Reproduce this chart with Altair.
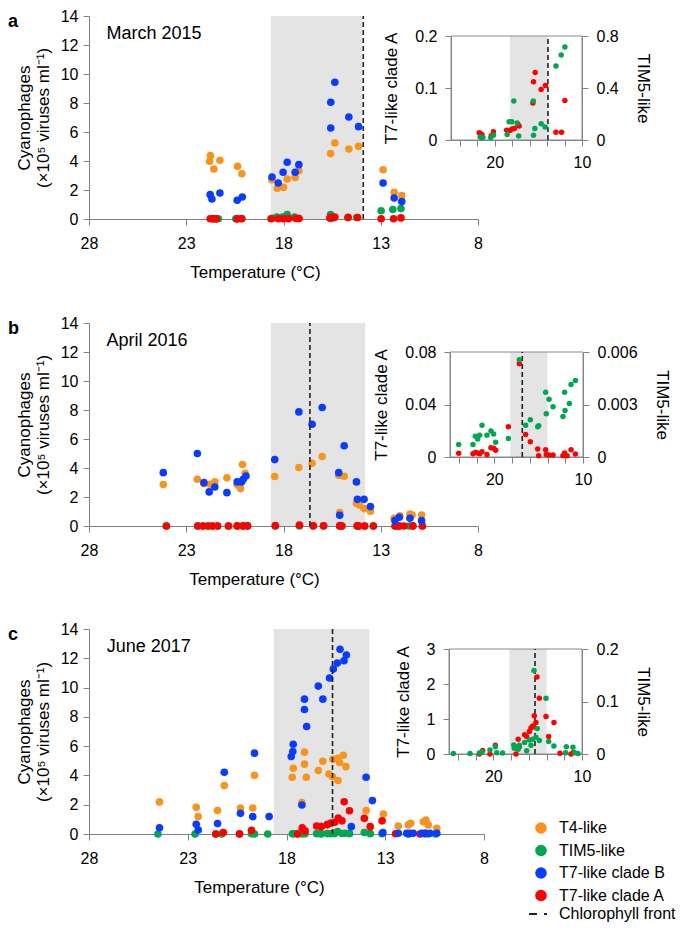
import altair as alt
import pandas as pd

FONT = "Liberation Sans"

SERIES = ["T4-like", "TIM5-like", "T7-like clade B", "T7-like clade A"]
SERIES_COLORS = ["#F7941D", "#00A651", "#0A3CFF", "#FF0000"]
FRONT_LABEL = ["Chlorophyll front"]

X_TICKS = [28, 23, 18, 13, 8]
Y_TICKS = [0, 2, 4, 6, 8, 10, 12, 14]
INSET_X_TICKS = [24, 22, 20, 18, 16, 14, 12, 10]

# ---------------- Panel a : March 2015 ----------------
a_t4_temp = [21.76, 21.8, 21.58, 21.27, 20.36, 20.14, 18.6, 18.32, 18.0, 17.81, 17.4, 17.21,
             15.58, 15.36, 14.64, 14.14, 12.88, 12.31, 11.92]
a_t4_val = [4.37, 3.98, 3.45, 4.05, 3.63, 3.12, 2.71, 2.12, 2.18, 2.76, 2.87, 3.33,
            4.51, 5.24, 4.83, 5.01, 3.40, 1.84, 1.61]
a_t7b_temp = [21.77, 21.68, 21.27, 20.38, 20.12, 18.59, 18.27, 18.02, 17.81, 17.4, 17.21,
              15.57, 15.36, 15.57, 14.64, 14.14, 12.88, 12.31, 11.92]
a_t7b_val = [1.68, 1.38, 1.79, 1.29, 1.52, 2.9, 2.48, 3.22, 3.91, 3.22, 3.75,
             8.05, 9.43, 6.28, 7.03, 6.37, 2.48, 1.45, 1.2]
a_tim5_temp = [21.66, 21.5, 21.35, 20.45, 20.15, 18.57, 18.34, 18.04, 17.81, 17.43, 17.25,
               15.58, 15.55, 15.4, 14.68, 14.23, 12.98, 12.38, 11.96]
a_tim5_val = [0.023, 0.018, 0.02, 0.018, 0.036, 0.043, 0.14, 0.14, 0.30, 0.13, 0.031,
              0.30, 0.036, 0.089, 0.125, 0.10, 0.57, 0.654, 0.716]
a_t7a_temp = [21.77, 21.6, 21.45, 20.38, 20.15, 18.64, 18.26, 18.0, 17.74, 17.36, 17.2,
              15.62, 15.55, 15.36, 14.68, 14.19, 12.98, 12.34, 11.96]
a_t7a_val = [0.014, 0.012, 0.010, 0.008, 0.016, 0.019, 0.0185, 0.021, 0.022, 0.031, 0.027,
             0.071, 0.112, 0.130, 0.097, 0.105, 0.015, 0.015, 0.076]
a_zone_main = [18.65, 13.97]
a_front_main = 13.9
a_zone_inset = [18.26, 13.92]
a_front_inset = 13.9
a_left_ticks = [0, 0.1, 0.2]
a_right_ticks = [0, 0.4, 0.8]

# ---------------- Panel b : April 2016 ----------------
b_t4_temp = [24.18, 22.43, 22.09, 21.78, 21.53, 20.91, 20.38, 20.21, 20.11, 19.97, 18.45,
             17.21, 16.53, 16.01, 15.16, 14.88, 15.11, 14.25, 14.1, 13.86, 13.53,
             12.31, 12.02, 11.5, 11.39, 10.9]
b_t4_val = [2.86, 3.22, 2.92, 2.88, 3.04, 3.32, 2.86, 2.58, 4.24, 3.64, 3.41,
            4.03, 4.33, 4.79, 3.5, 3.43, 0.92, 1.57, 1.45, 1.2, 1.01,
            0.53, 0.71, 0.83, 0.76, 0.76]
b_t7b_temp = [24.18, 22.43, 22.09, 21.82, 21.53, 20.91, 20.38, 20.16, 20.07, 19.93, 18.45,
              17.21, 16.53, 16.01, 15.16, 14.88, 15.11, 14.25, 14.2, 13.86, 13.53,
              12.27, 12.05, 11.5, 10.9]
b_t7b_val = [3.68, 5.0, 2.99, 2.35, 2.69, 2.3, 3.04, 3.04, 3.22, 3.45, 4.58,
             7.87, 7.02, 8.17, 3.68, 5.53, 0.74, 3.04, 1.84, 1.84, 1.34,
             0.37, 0.6, 0.53, 0.37]
b_tim5_temp = [24.02, 22.41, 22.14, 21.88, 21.65, 21.39, 20.83, 20.38, 20.08, 19.85, 18.42,
               17.18, 16.47, 15.94, 15.11, 15.0, 14.21, 14.14, 13.83, 13.38, 12.26,
               12.07, 12.03, 11.54, 11.35, 10.86]
b_tim5_val = [0.00072, 0.00072, 0.00118, 0.00103, 0.00125, 0.00182, 0.00125, 0.00148, 0.00131,
              0.00084, 0.00106, 0.00556, 0.00182, 0.00213, 0.00173, 0.00178, 0.0037, 0.00247,
              0.0033, 0.00287, 0.00232, 0.0037, 0.00266, 0.00306, 0.00414, 0.00437]
b_t7a_temp = [24.02, 22.41, 22.14, 21.88, 21.65, 21.39, 20.83, 20.38, 20.08, 19.85, 18.42,
              17.18, 16.47, 15.94, 15.11, 15.0, 14.21, 14.14, 13.83, 13.38, 12.26,
              12.07, 11.8, 11.35, 10.86]
b_t7a_val = [0.0028, 0.0025, 0.0035, 0.003, 0.0025, 0.004, 0.002, 0.0071, 0.0066, 0.0051, 0.023,
             0.0711, 0.0172, 0.0116, 0.0061, 0.001, 0.0056, 0.002, 0.0015, 0.0015, 0.001,
             0.003, 0.001, 0.0056, 0.0023]
b_zone_main = [18.65, 13.8]
b_front_main = 16.64
b_zone_inset = [18.2, 14.0]
b_front_inset = 16.85
b_left_ticks = [0, 0.04, 0.08]
b_right_ticks = [0, 0.003, 0.006]

# ---------------- Panel c : June 2017 ----------------
c_t4_temp = [24.43, 22.57, 22.47, 21.49, 21.15, 20.33, 19.71, 19.62, 17.71, 17.66, 17.09,
             17.09, 17.0, 17.22, 16.39, 16.16, 15.85, 15.65, 15.68, 15.39, 15.39, 15.31,
             15.12, 14.99, 13.97, 13.09, 12.34, 11.83, 11.71, 11.07, 10.94, 10.82, 10.39]
c_t4_val = [2.19, 1.82, 1.19, 1.6, 3.31, 1.78, 1.78, 4.01, 3.88, 4.49, 5.59,
            4.77, 3.88, 2.14, 4.33, 4.97, 4.1, 5.1, 3.92, 3.65, 5.17, 4.88,
            5.38, 4.6, 1.6, 1.37, 0.55, 0.62, 0.73, 0.84, 0.96, 0.62, 0.39]
c_t7b_temp = [24.43, 22.57, 22.47, 21.49, 21.15, 20.33, 19.71, 19.62, 18.88, 17.76, 17.68,
              17.66, 17.09, 17.09, 16.98, 17.22, 16.39, 16.16, 15.82, 15.63, 15.43, 15.29,
              15.09, 14.97, 14.72, 13.97, 13.65, 13.12, 12.34, 11.91, 11.74, 11.58, 11.15,
              10.95, 10.73, 10.39]
c_t7b_val = [0.43, 0.66, 0.27, 0.71, 4.22, 1.41, 1.19, 5.52, 1.19, 5.29, 5.63,
             6.13, 9.21, 8.5, 7.34, 1.98, 10.1, 9.21, 10.65, 11.26, 11.67, 12.61,
             11.83, 12.22, 0.5, 3.88, 2.28, 0.09, 0.05, 0.05, 0.05, 0.05, 0.05,
             0.05, 0.05, 0.05]
c_tim5_temp = [24.51, 22.63, 21.58, 21.28, 20.38, 19.77, 19.62, 18.95, 17.7, 17.63, 17.44,
               17.2, 17.06, 16.47, 16.24, 15.94, 15.75, 15.56, 15.41, 15.19, 15.04, 14.81,
               14.06, 13.76, 13.17, 11.77, 11.85, 11.02, 10.83, 10.45]
c_tim5_val = [0.001, 0.001, 0.002, 0.0045, 0.0076, 0.014, 0.0025, 0.002, 0.017, 0.011, 0.014,
              0.009, 0.0166, 0.0217, 0.0064, 0.0268, 0.0166, 0.028, 0.159, 0.0318, 0.0484, 0.0255,
              0.106, 0.0236, 0.0153, 0.014, 0.0025, 0.0127, 0.0025, 0.001]
c_t7a_temp = [21.58, 21.2, 20.38, 19.77, 17.44, 17.2, 17.06, 16.47, 16.24, 15.94, 15.75,
              15.56, 15.38, 15.19, 15.08, 14.81, 14.06, 13.76, 13.16, 12.48, 11.24, 10.98]
c_t7a_val = [0.0, 0.1, 0.0, 0.25, 0.0, 0.42, 0.21, 0.55, 0.5, 0.64, 0.74,
             0.8, 1.09, 0.9, 2.2, 1.59, 1.07, 0.5, 0.9, 0.02, 0.0, 0.04]
c_zone_main = [18.65, 13.8]
c_front_main = 15.67
c_zone_inset = [18.2, 14.0]
c_front_inset = 15.3
c_left_ticks = [0, 1, 2, 3]
c_right_ticks = [0, 0.1, 0.2]


def series_df(parts):
    frames = []
    for k, (name, temps, vals) in enumerate(parts):
        frames.append(pd.DataFrame({"temp": temps, "val": vals, "series": name, "ord": k}))
    return pd.concat(frames, ignore_index=True)


# legend positions are relative to the top-left corner of panel a's plot area
color_enc = alt.Color(
    "series:N",
    scale=alt.Scale(domain=SERIES, range=SERIES_COLORS),
    legend=alt.Legend(title=None, orient="none", legendX=444, legendY=804,
                      symbolType="circle", symbolSize=135, symbolOpacity=1,
                      labelFont=FONT, labelFontSize=16, labelColor="#000",
                      rowPadding=6.5, labelOffset=10, padding=0),
)
stroke_enc = alt.Stroke(
    "lab:N",
    scale=alt.Scale(domain=FRONT_LABEL, range=["#222222"]),
    legend=alt.Legend(title=None, orient="none", legendX=439, legendY=887,
                      symbolType="M-1,0H-0.2M0.5,0H0.8", symbolSize=400,
                      symbolStrokeWidth=2, labelFont=FONT, labelFontSize=16,
                      labelColor="#000", labelOffset=9, padding=0),
)


def make_row(letter, label, t4, t7b, tim5, t7a, zone_main, front_main, zone_inset,
             front_inset, lticks, rticks, W, H, xr, yr, title_x):
    lmax = lticks[-1]
    rmax = rticks[-1]
    main_xscale = alt.Scale(domain=[8, 28], reverse=True, nice=False, zero=False)
    main_xaxis = alt.Axis(values=X_TICKS, title="Temperature (°C)", titleX=title_x,
                          titlePadding=13, labelPadding=10, format="~g")
    main_yscale = alt.Scale(domain=[0, 14], nice=False, zero=True)
    main_yaxis = alt.Axis(values=Y_TICKS, title=["Cyanophages", "(×10⁵ viruses ml⁻¹)"],
                          titlePadding=8, labelPadding=5, format="~g")

    def mx(f):
        return alt.X(f, scale=main_xscale, axis=main_xaxis)

    def my(f):
        return alt.Y(f, scale=main_yscale, axis=main_yaxis)

    pts = series_df([("T4-like",) + t4, ("TIM5-like",) + tim5,
                     ("T7-like clade A",) + t7a, ("T7-like clade B",) + t7b])
    zone_df = pd.DataFrame({"t1": [zone_main[0]], "t2": [zone_main[1]], "y1": [0], "y2": [14]})
    front_df = pd.DataFrame({"t": [front_main], "y1": [0], "y2": [14], "lab": FRONT_LABEL})
    label_df = pd.DataFrame({"t": [27.1], "y": [12.75], "text": [label]})

    m_zone = alt.Chart(zone_df).mark_rect(color="#E4E4E4").encode(
        x=mx("t1:Q"), x2="t2:Q", y=my("y1:Q"), y2="y2:Q")
    m_pts = alt.Chart(pts).mark_circle(size=58, opacity=1).encode(
        x=mx("temp:Q"), y=my("val:Q"), color=color_enc, order=alt.Order("ord:Q"))
    m_front = alt.Chart(front_df).mark_rule(strokeDash=[5, 3], strokeWidth=1.6).encode(
        x=mx("t:Q"), y=my("y1:Q"), y2="y2:Q", stroke=stroke_enc)
    m_label = alt.Chart(label_df).mark_text(align="left", baseline="middle", font=FONT,
                                            fontSize=18, color="#000").encode(
        x=mx("t:Q"), y=my("y:Q"), text="text:N")
    main = alt.layer(m_zone, m_pts, m_front, m_label)

    # inset
    in_xscale = alt.Scale(domain=[10, 25], reverse=True, nice=False, zero=False, range=list(xr))
    in_xaxis = alt.Axis(orient="bottom", offset=yr[0] - H, values=INSET_X_TICKS, title=None,
                        labelExpr="datum.value == 20 || datum.value == 10 ? datum.label : ''",
                        labelPadding=8, format="~g")
    l_scale = alt.Scale(domain=[0, lmax], nice=False, zero=True, range=list(yr))
    l_axis = alt.Axis(orient="left", offset=-xr[0], values=lticks, title="T7-like clade A",
                      titlePadding=14, labelPadding=8, format="~g")
    r_scale = alt.Scale(domain=[0, rmax], nice=False, zero=True, range=list(yr))
    r_axis = alt.Axis(orient="right", offset=xr[1] - W, values=rticks, title="TIM5-like",
                      titlePadding=15, labelPadding=8, format="~g")

    def ix(f):
        return alt.X(f, scale=in_xscale, axis=in_xaxis)

    def ly(f):
        return alt.Y(f, scale=l_scale, axis=l_axis)

    izone_df = pd.DataFrame({"t1": [zone_inset[0]], "t2": [zone_inset[1]], "y1": [0], "y2": [lmax]})
    ibox_df = pd.DataFrame({"t1": [25], "t2": [10], "y1": [0], "y2": [lmax]})
    ifront_df = pd.DataFrame({"t": [front_inset], "y1": [0], "y2": [lmax], "lab": FRONT_LABEL})
    red_df = series_df([("T7-like clade A",) + t7a])
    green_df = series_df([("TIM5-like",) + tim5])

    i_zone = alt.Chart(izone_df).mark_rect(color="#E4E4E4").encode(
        x=ix("t1:Q"), x2="t2:Q", y=ly("y1:Q"), y2="y2:Q")
    i_box = alt.Chart(ibox_df).mark_rect(fillOpacity=0, stroke="#8a8a8a", strokeWidth=1).encode(
        x=ix("t1:Q"), x2="t2:Q", y=ly("y1:Q"), y2="y2:Q")
    i_front = alt.Chart(ifront_df).mark_rule(strokeDash=[5, 3], strokeWidth=1.6).encode(
        x=ix("t:Q"), y=ly("y1:Q"), y2="y2:Q", stroke=stroke_enc)
    i_red = alt.Chart(red_df).mark_circle(size=30, opacity=1).encode(
        x=ix("temp:Q"), y=ly("val:Q"), color=color_enc)
    i_green = alt.Chart(green_df).mark_circle(size=30, opacity=1).encode(
        x=ix("temp:Q"), y=alt.Y("val:Q", scale=r_scale, axis=r_axis), color=color_enc)

    inset_left = alt.layer(i_zone, i_box, i_front, i_red)
    inset = alt.layer(inset_left, i_green).resolve_scale(y="independent")

    row = alt.layer(main, inset).resolve_scale(x="independent", y="independent").properties(
        width=W, height=H,
        title=alt.Title(letter, anchor="start", frame="group", dx=-81, offset=-23,
                        font=FONT, fontSize=18, fontWeight="bold", color="#000"),
    )
    return row


row_a = make_row("a", "March 2015", (a_t4_temp, a_t4_val), (a_t7b_temp, a_t7b_val),
                 (a_tim5_temp, a_tim5_val), (a_t7a_temp, a_t7a_val),
                 a_zone_main, a_front_main, a_zone_inset, a_front_inset,
                 a_left_ticks, a_right_ticks, 389, 203, (362, 493), (124, 20), 166)
row_b = make_row("b", "April 2016", (b_t4_temp, b_t4_val), (b_t7b_temp, b_t7b_val),
                 (b_tim5_temp, b_tim5_val), (b_t7a_temp, b_t7a_val),
                 b_zone_main, b_front_main, b_zone_inset, b_front_inset,
                 b_left_ticks, b_right_ticks, 389, 203, (361, 494), (134, 29), 165)
row_c = make_row("c", "June 2017", (c_t4_temp, c_t4_val), (c_t7b_temp, c_t7b_val),
                 (c_tim5_temp, c_tim5_val), (c_t7a_temp, c_t7a_val),
                 c_zone_main, c_front_main, c_zone_inset, c_front_inset,
                 c_left_ticks, c_right_ticks, 395, 205, (360, 493), (125, 20), 170)

lower = alt.vconcat(row_b, row_c, spacing=34)
chart = alt.vconcat(row_a, lower, spacing=35).properties(
    padding={"left": 0, "top": 0, "right": 0, "bottom": 0}
).configure_axis(
    labelFont=FONT, labelFontSize=16, labelColor="#000",
    titleFont=FONT, titleFontSize=17, titleFontWeight="normal", titleColor="#000",
    domainColor="#808080", tickColor="#808080", domainWidth=1, tickWidth=1,
    tickSize=6, grid=False, labelFlush=False,
).configure_view(stroke=None)

chart.save("out.html", embed_options={"renderer": "svg", "actions": False})
